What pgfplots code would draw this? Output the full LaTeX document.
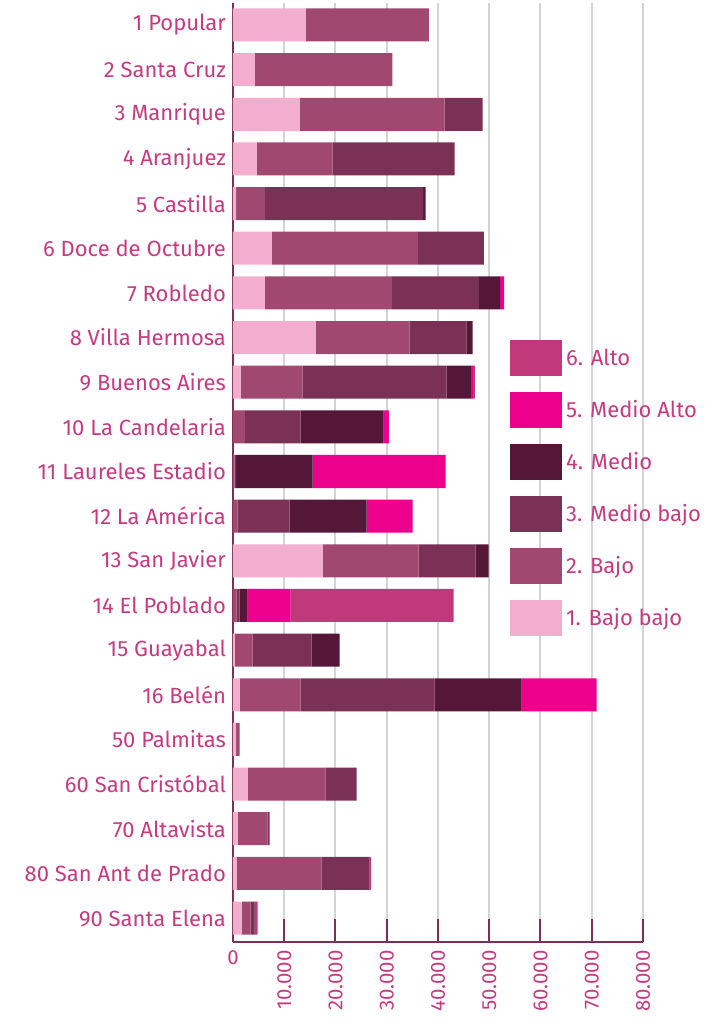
\documentclass[border=0pt]{standalone}
\usepackage{pgfplots}
\pgfplotsset{compat=1.18}
\usepackage{pgfplotstable}
\usepackage{graphicx}
\usepackage{fontspec}
\setmainfont{Fira Sans}

\definecolor{bb}{HTML}{F3AECF}
\definecolor{bj}{HTML}{A0486F}
\definecolor{mb}{HTML}{7B3156}
\definecolor{md}{HTML}{551738}
\definecolor{ma}{HTML}{EC008C}
\definecolor{al}{HTML}{C2397B}
\definecolor{txt}{HTML}{C63B7F}
\definecolor{axc}{HTML}{7B3058}

% households by stratum, one row per comuna (20 = top)
\pgfplotstableread{
row bb b mb m ma a
20 14200 24000 0 0 0 0
19 4200 26900 0 0 0 0
18 13000 28300 7400 0 0 0
17 4600 14850 23800 0 0 0
16 600 5600 30900 500 0 0
15 7550 28500 12900 0 0 0
14 6200 24800 17000 4100 800 0
13 16100 18350 11100 1200 0 0
12 1500 12100 28100 4700 400 400
11 0 2300 10900 16200 1000 0
10 0 300 300 14950 25950 0
9 0 900 10150 15000 9000 0
8 17500 18730 11120 2540 0 0
7 0 700 600 1560 8390 31800
6 300 3540 11510 5470 0 0
5 1310 11900 26140 16970 14630 0
4 600 710 0 0 0 0
3 2870 15210 6050 0 0 0
2 920 5850 390 0 0 0
1 720 16580 9370 0 0 300
0 1700 1750 780 200 0 390
}\datatable

\begin{document}
\begin{tikzpicture}
\begin{axis}[
  at={(0,0)}, anchor=south west,
  scale only axis, width=205pt, height=469.5pt,
  xbar stacked, bar width=16.5pt,
  xmin=0, xmax=80000, ymin=-0.5375, ymax=20.493,
  axis x line*=bottom, axis y line*=left,
  axis line style={axc, line width=1pt},
  ytick={0,...,20},
  yticklabels={90 Santa Elena, 80 San Ant de Prado, 70 Altavista, 60 San Cristóbal,
    50 Palmitas, 16 Belén, 15 Guayabal, 14 El Poblado, 13 San Javier, 12 La América,
    11 Laureles Estadio, 10 La Candelaria, 9 Buenos Aires, 8 Villa Hermosa,
    7 Robledo, 6 Doce de Octubre, 5 Castilla, 4 Aranjuez, 3 Manrique,
    2 Santa Cruz, 1 Popular},
  xtick={0,10000,...,80000},
  xticklabels={0,\rotatebox{90}{10.000},\rotatebox{90}{20.000},\rotatebox{90}{30.000},
    \rotatebox{90}{40.000},\rotatebox{90}{50.000},\rotatebox{90}{60.000},
    \rotatebox{90}{70.000},\rotatebox{90}{80.000}},
  xtick align=inside,
  x tick style={axc, line width=1pt},
  major tick length=11.5pt,
  y tick style={draw=none},
  xmajorgrids, grid style={black!17, line width=1pt},
  tick label style={font=\fontsize{11}{13}\selectfont, text=txt},
  x tick label style={anchor=north, inner sep=0pt, yshift=-4pt, font=\fontsize{10.2}{12}\selectfont},
  legend style={at={(0.675,0.641)}, anchor=north west, draw=none, fill=none,
    inner sep=0pt, row sep=8pt, font=\fontsize{11}{13}\selectfont, text=txt},
  legend cell align=left, reverse legend,
  legend image code/.code={\fill[#1] (0pt,-9pt) rectangle (26pt,9pt);},
]
\addplot[fill=bb, draw=none] table[x=bb, y=row] {\datatable};
\addlegendentry{1. Bajo bajo}
\addplot[fill=bj, draw=none] table[x=b, y=row] {\datatable};
\addlegendentry{2. Bajo}
\addplot[fill=mb, draw=none] table[x=mb, y=row] {\datatable};
\addlegendentry{3. Medio bajo}
\addplot[fill=md, draw=none] table[x=m, y=row] {\datatable};
\addlegendentry{4. Medio}
\addplot[fill=ma, draw=none] table[x=ma, y=row] {\datatable};
\addlegendentry{5. Medio Alto}
\addplot[fill=al, draw=none] table[x=a, y=row] {\datatable};
\addlegendentry{6. Alto}
\end{axis}
\pgfresetboundingbox
\path[use as bounding box] (-116.5pt,-42pt) rectangle (241pt,471pt);
\end{tikzpicture}
\end{document}
